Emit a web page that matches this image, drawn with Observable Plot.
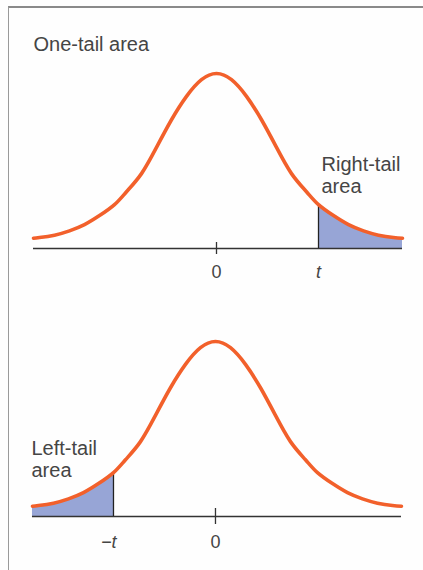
<!DOCTYPE html>
<html><head><meta charset="utf-8">
<script src="https://cdn.jsdelivr.net/npm/d3@7"></script>
<script src="https://cdn.jsdelivr.net/npm/@observablehq/plot@0.6"></script>
<style>
body{margin:0;background:#fff;}
#wrap{position:relative;width:423px;height:570px;overflow:hidden;background:#fefefe;}
#frame{position:absolute;left:8px;top:6px;width:430px;height:580px;border-top:2px solid #8a8a8a;border-left:1.5px solid #9a9a9a;}
#top,#bottom{position:absolute;left:0;}
#top{top:0;}
#bottom{top:290px;}
</style></head><body>
<div id="wrap"><div id="frame"></div><div id="top"></div><div id="bottom"></div></div>
<script>
// t-values (horizontal axis) and the density of the curve
const tValues = [-3.05, -2.95, -2.7, -2.45, -2.2, -1.95, -1.7, -1.5, -1.25, -1.0, -0.75, -0.5, -0.25, 0,
                 0.25, 0.5, 0.75, 1.0, 1.25, 1.5, 1.7, 1.95, 2.2, 2.45, 2.7, 2.95, 3.1];
const density = [0.0216, 0.023, 0.028, 0.037, 0.050, 0.069, 0.092, 0.119, 0.157, 0.212, 0.270, 0.319, 0.354, 0.367,
                 0.354, 0.319, 0.270, 0.212, 0.157, 0.119, 0.092, 0.069, 0.050, 0.037, 0.028, 0.023, 0.0216];
const tCut = 1.7;
const titleText = "One-tail area";
const rightLabel = "Right-tail\narea";
const leftLabel = "Left-tail\narea";
const zeroTick = [0];
const zeroLabel = ["0"];
const rightTick = [tCut];
const rightTickLabel = ["t"];
const leftTick = [-tCut];
const leftTickLabel = ["\u2212t"];

const pts = tValues.map((x, i) => ({x, y: density[i]}));
const yAt = v => density[tValues.indexOf(v)];
const xMin = tValues[0], xMax = tValues[tValues.length - 1];

const font = "'Liberation Sans', Arial, Helvetica, sans-serif";
const curveColor = "#f2602b";
const fillColor = "#97a5d6";
const inkColor = "#333";
const textColor = "#454545";
const curveType = "natural";

function fmt(ticks, labels) {
  const m = new Map(ticks.map((t, i) => [t, labels[i]]));
  return d => m.get(d);
}

const topPlot = Plot.plot({
  width: 423, height: 290,
  marginLeft: 0, marginRight: 0, marginTop: 0, marginBottom: 42,
  style: {background: "transparent", fontFamily: font, color: textColor, overflow: "visible"},
  x: {domain: [-3.6, 3.45], axis: null},
  y: {domain: [0, 0.52], axis: null},
  marks: [
    Plot.areaY(pts.filter(d => d.x >= tCut), {x: "x", y: "y", fill: fillColor, curve: curveType}),
    Plot.ruleY([0], {x1: xMin, x2: xMax, stroke: inkColor, strokeWidth: 1.5}),
    Plot.ruleX(rightTick, {y1: 0, y2: yAt(tCut), stroke: "#222", strokeWidth: 1.3}),
    Plot.ruleX(zeroTick, {y1: 0, y2: 0, insetTop: -6, insetBottom: -6, stroke: inkColor, strokeWidth: 1.3}),
    Plot.line(pts, {x: "x", y: "y", stroke: curveColor, strokeWidth: 3.6, curve: curveType}),
    Plot.axisX({ticks: zeroTick, tickFormat: fmt(zeroTick, zeroLabel), label: null, tickSize: 0, tickPadding: 17, fontSize: 18, fill: textColor}),
    Plot.axisX({ticks: rightTick, tickFormat: fmt(rightTick, rightTickLabel), label: null, tickSize: 0, tickPadding: 17, fontSize: 18, fontStyle: "italic", fill: textColor}),
    Plot.text([titleText], {frameAnchor: "top-left", text: d => d, dx: 33, dy: 36, lineAnchor: "top", textAnchor: "start", fontSize: 20, fill: textColor}),
    Plot.text([{x: tCut, y: yAt(tCut), label: rightLabel}], {x: "x", y: "y", text: "label", textAnchor: "start", lineAnchor: "bottom", dx: 3, dy: -12, fontSize: 20, lineHeight: 1.1, fill: textColor})
  ]
});
document.getElementById("top").appendChild(topPlot);

const bottomPlot = Plot.plot({
  width: 423, height: 280,
  marginLeft: 0, marginRight: 0, marginTop: 0, marginBottom: 54,
  style: {background: "transparent", fontFamily: font, color: textColor, overflow: "visible"},
  x: {domain: [-3.583, 3.467], axis: null},
  y: {domain: [0, 0.474], axis: null},
  marks: [
    Plot.areaY(pts.filter(d => d.x <= -tCut), {x: "x", y: "y", fill: fillColor, curve: curveType}),
    Plot.ruleY([0], {x1: xMin, x2: xMax, stroke: inkColor, strokeWidth: 1.5}),
    Plot.ruleX(leftTick, {y1: 0, y2: yAt(-tCut), stroke: "#222", strokeWidth: 1.3}),
    Plot.ruleX(zeroTick, {y1: 0, y2: 0, insetTop: -8, insetBottom: -8, stroke: inkColor, strokeWidth: 1.3}),
    Plot.line(pts, {x: "x", y: "y", stroke: curveColor, strokeWidth: 3.6, curve: curveType}),
    Plot.axisX({ticks: zeroTick, tickFormat: fmt(zeroTick, zeroLabel), label: null, tickSize: 0, tickPadding: 19, fontSize: 18, fill: textColor}),
    Plot.axisX({ticks: leftTick, tickFormat: fmt(leftTick, leftTickLabel), label: null, tickSize: 0, tickPadding: 19, fontSize: 18, fontStyle: "italic", textAnchor: "end", dx: 3, fill: textColor}),
    Plot.text([{x: xMin, y: yAt(-tCut), label: leftLabel}], {x: "x", y: "y", text: "label", textAnchor: "start", lineAnchor: "bottom", dx: -1, dy: 4, fontSize: 20, lineHeight: 1.1, fill: textColor})
  ]
});
document.getElementById("bottom").appendChild(bottomPlot);
</script>
</body></html>
